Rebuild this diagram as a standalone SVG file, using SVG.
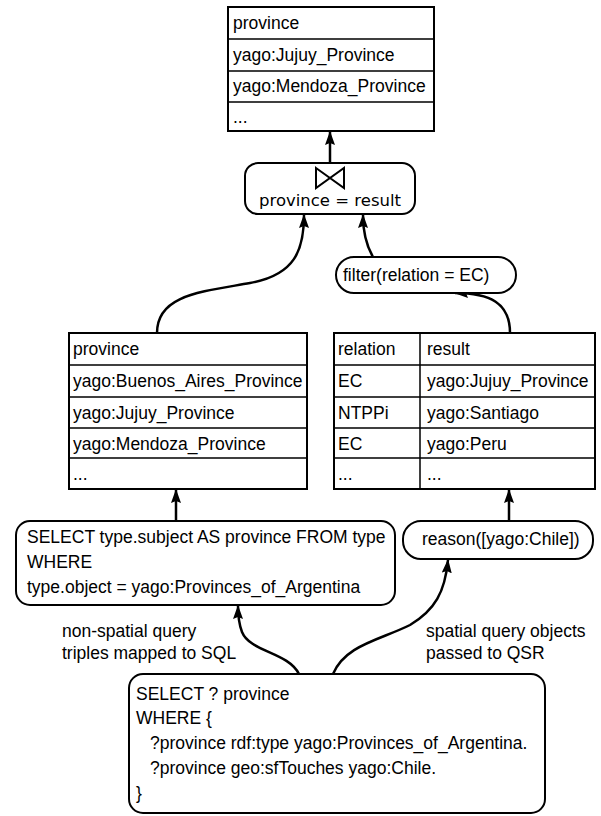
<svg xmlns="http://www.w3.org/2000/svg" width="601" height="816" viewBox="0 0 601 816">
<defs>
<style>
.t{font-family:"Liberation Sans",Arial,sans-serif;font-size:17.5px;fill:#000}
.j{font-family:"DejaVu Sans",sans-serif;font-size:16.5px;fill:#000}
.box{fill:#fff;stroke:#000;stroke-width:2}
.ln{fill:none;stroke:#000;stroke-width:1.5}
.c{fill:none;stroke:#000;stroke-width:2.5;marker-end:url(#ah)}
</style>
<marker id="ah" viewBox="0 0 14 10" refX="13" refY="5" markerWidth="14" markerHeight="10" orient="auto" markerUnits="userSpaceOnUse">
<path d="M0,0 L14,5 L0,10 L2,5 z" fill="#000"/>
</marker>
</defs>
<rect width="601" height="816" fill="#fff"/>

<g id="connectors">
<path class="c" d="M330,163 L330,132"/>
<path class="c" d="M157,333 C157,295 200,292 250,283 C295,275 304,250 304,215"/>
<path class="c" d="M373,257 C366,245 363,232 363,215"/>
<path class="c" d="M510,333 C510,303 490,293 455,293"/>
<path class="c" d="M176,521 L176,490"/>
<path class="c" d="M509,521 L509,490"/>
<path class="c" d="M299,674 C288,652 250,652 242,632 C239,624 238,617 238,606"/>
<path class="c" d="M333,674 C345,645 380,640 410,625 C435,610 445,592 448,560"/>
</g>

<g id="result-table">
<rect class="box" x="228" y="7" width="206" height="124"/>
<path class="ln" d="M228,39H434M228,71H434M228,102H434"/>
<text class="t" x="233" y="29">province</text>
<text class="t" x="233" y="61">yago:Jujuy_Province</text>
<text class="t" x="233" y="92">yago:Mendoza_Province</text>
<text class="t" x="233" y="123">...</text>
</g>

<g id="join">
<rect class="box" x="245" y="163" width="170" height="51" rx="13"/>
<path d="M316,168 L344,188 L344,168 L316,188 Z" fill="none" stroke="#000" stroke-width="2"/>
<text class="j" x="330" y="206" text-anchor="middle">province = result</text>
</g>

<g id="filter">
<rect class="box" x="336" y="257" width="180" height="36" rx="18"/>
<text class="t" x="343" y="281">filter(relation = EC)</text>
</g>

<g id="left-table">
<rect class="box" x="69" y="333" width="238" height="156"/>
<path class="ln" d="M69,365H307M69,397H307M69,428H307M69,458H307"/>
<text class="t" x="73" y="355">province</text>
<text class="t" x="73" y="387">yago:Buenos_Aires_Province</text>
<text class="t" x="73" y="419">yago:Jujuy_Province</text>
<text class="t" x="73" y="450">yago:Mendoza_Province</text>
<text class="t" x="73" y="480">...</text>
</g>

<g id="right-table">
<rect class="box" x="334" y="333" width="261" height="156"/>
<path class="ln" d="M334,365H595M334,397H595M334,428H595M334,458H595M420,333V489"/>
<text class="t" x="338" y="355">relation</text>
<text class="t" x="338" y="387">EC</text>
<text class="t" x="338" y="419">NTPPi</text>
<text class="t" x="338" y="450">EC</text>
<text class="t" x="338" y="480">...</text>
<text class="t" x="427" y="355">result</text>
<text class="t" x="427" y="387">yago:Jujuy_Province</text>
<text class="t" x="427" y="419">yago:Santiago</text>
<text class="t" x="427" y="450">yago:Peru</text>
<text class="t" x="427" y="480">...</text>
</g>

<g id="sql">
<rect class="box" x="16" y="521" width="379" height="84" rx="14"/>
<text class="t" x="27" y="543">SELECT type.subject AS province FROM type</text>
<text class="t" x="27" y="568">WHERE</text>
<text class="t" x="27" y="593">type.object = yago:Provinces_of_Argentina</text>
</g>

<g id="reason">
<rect class="box" x="403" y="521" width="190" height="38" rx="18"/>
<text class="t" x="422" y="545">reason([yago:Chile])</text>
</g>

<g id="labels">
<text class="t" x="62" y="637">non-spatial query</text>
<text class="t" x="62" y="659">triples mapped to SQL</text>
<text class="t" x="426" y="637">spatial query objects</text>
<text class="t" x="426" y="659">passed to QSR</text>
</g>

<g id="sparql">
<rect class="box" x="129" y="674" width="416" height="139" rx="14"/>
<text class="t" x="136" y="700">SELECT ? province</text>
<text class="t" x="136" y="724">WHERE {</text>
<text class="t" x="150" y="749">?province rdf:type yago:Provinces_of_Argentina.</text>
<text class="t" x="150" y="774">?province geo:sfTouches yago:Chile.</text>
<text class="t" x="136" y="799">}</text>
</g>
</svg>
